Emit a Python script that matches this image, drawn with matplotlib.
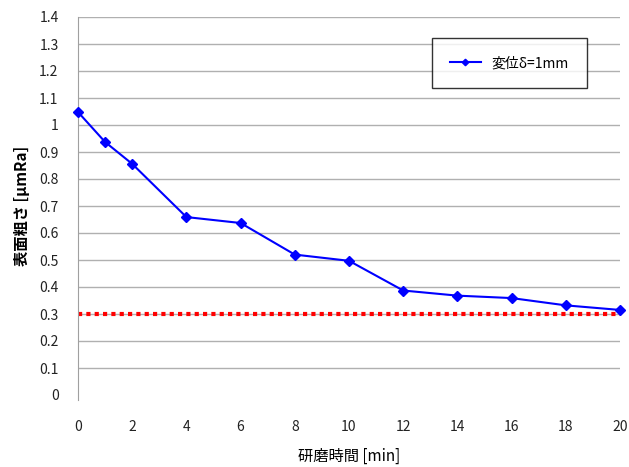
import matplotlib
matplotlib.use("Agg")
import matplotlib.pyplot as plt

plt.rcParams['font.family'] = ['Noto Sans CJK JP', 'DejaVu Sans']

time_min = [0, 1, 2, 4, 6, 8, 10, 12, 14, 16, 18, 20]
roughness = [1.048, 0.937, 0.856, 0.659, 0.637, 0.520, 0.497, 0.387, 0.368, 0.359, 0.332, 0.315]
threshold = 0.3
series_label = "変位δ=1mm"
xlabel = "研磨時間 [min]"
ylabel = "表面粗さ [μmRa]"
xticks = list(range(0, 21, 2))
yticks = [round(i * 0.1, 1) for i in range(15)]
ytick_labels = ["0", "0.1", "0.2", "0.3", "0.4", "0.5", "0.6", "0.7", "0.8", "0.9", "1", "1.1", "1.2", "1.3", "1.4"]

fig = plt.figure(figsize=(6.29, 4.67), dpi=100)
ax = fig.add_axes([78/629, 72/467, 542/629, 378/467])

for y in yticks[1:]:
    ax.axhline(y, color="#b0b0b0", lw=1.0, zorder=0)

ax.plot([time_min[0], time_min[-1]], [threshold, threshold], color="#ff0000",
        lw=3, ls=(0, (1, 1)), zorder=2, clip_on=False)
ax.plot(time_min, roughness, color="#0000ff", lw=1.5, marker="D", ms=5.5,
        label=series_label, zorder=3, clip_on=False)

ax.set_xlim(0, 20)
ax.set_ylim(0, 1.4)
ax.set_xticks(xticks)
ax.set_yticks(yticks)
ax.set_yticklabels(ytick_labels)
for s in ["top", "right", "bottom"]:
    ax.spines[s].set_visible(False)
ax.spines["left"].set_color("#a0a0a0")
ax.spines["left"].set_bounds(-0.02, 1.4)
ax.tick_params(axis="x", length=0, pad=18, labelsize=10, colors="#222222")
ax.tick_params(axis="y", length=0, pad=14, labelsize=10, colors="#222222")

ax.set_xlabel(xlabel, fontsize=11)
ax.set_ylabel(ylabel, fontsize=11, fontweight="bold")
ax.yaxis.set_label_coords(-48/542, 0.5)
ax.xaxis.set_label_coords(0.5, -53/378)

leg = ax.legend(loc="upper left", bbox_to_anchor=(354/542, 1 - 21/378), frameon=True,
                fancybox=False, edgecolor="#000000", fontsize=10,
                handlelength=2.2, borderpad=1.3, borderaxespad=0, markerscale=0.6)
leg.get_frame().set_linewidth(1.0)

fig.savefig("out.png", dpi=100)
